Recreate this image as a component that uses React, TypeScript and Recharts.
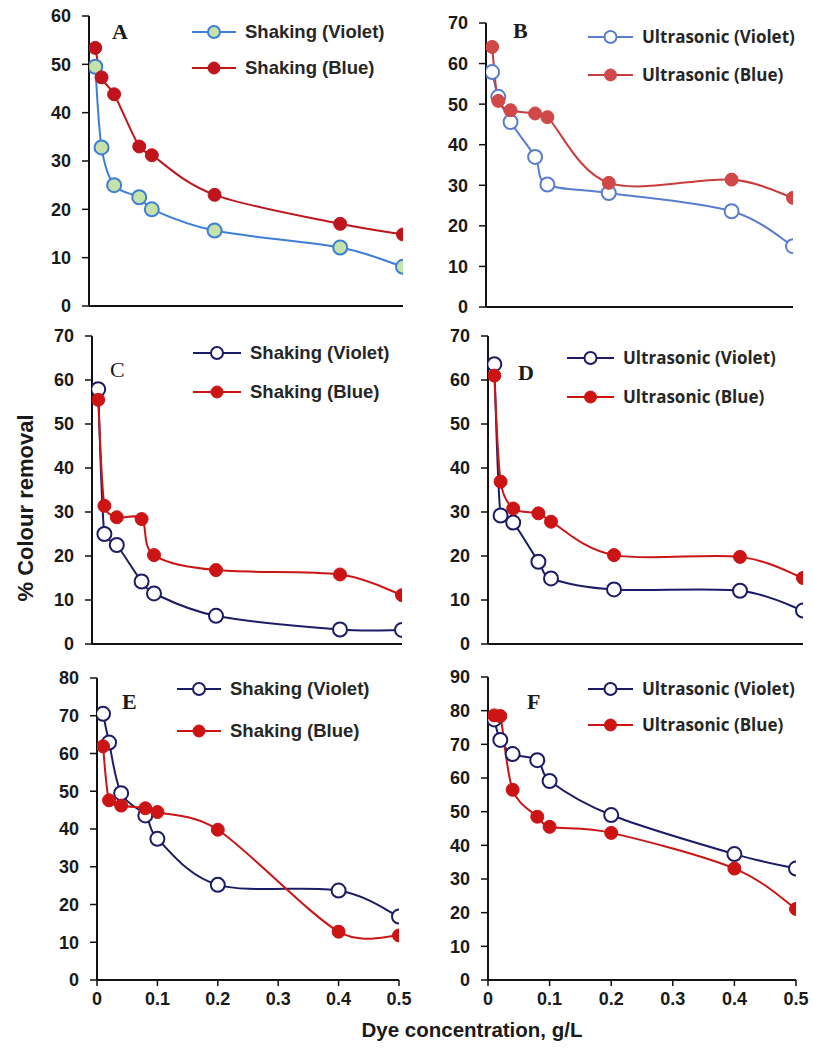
import React from 'react';
import { LineChart, Line, XAxis, YAxis, Legend } from 'recharts';

// ---- data ----
const concentrations = [0.01, 0.02, 0.04, 0.08, 0.1, 0.2, 0.4, 0.5];
const xTicks = [0, 0.1, 0.2, 0.3, 0.4, 0.5];

const aViolet = [49.5, 32.8, 25.0, 22.5, 20.0, 15.6, 12.1, 8.1];
const aBlue = [53.4, 47.3, 43.8, 33.0, 31.2, 23.0, 17.0, 14.8];
const bViolet = [57.9, 51.8, 45.6, 37.0, 30.2, 28.1, 23.6, 15.0];
const bBlue = [64.1, 50.8, 48.5, 47.7, 46.8, 30.6, 31.4, 26.9];
const cViolet = [57.9, 25.0, 22.5, 14.2, 11.5, 6.4, 3.3, 3.2];
const cBlue = [55.5, 31.4, 28.8, 28.4, 20.2, 16.8, 15.8, 11.1];
const dViolet = [63.6, 29.2, 27.6, 18.7, 14.9, 12.4, 12.1, 7.6];
const dBlue = [61.0, 36.9, 30.8, 29.7, 27.8, 20.2, 19.8, 15.0];
const eViolet = [70.5, 62.9, 49.5, 43.6, 37.4, 25.2, 23.7, 16.8];
const eBlue = [61.9, 47.6, 46.2, 45.5, 44.5, 39.8, 12.8, 11.8];
const fViolet = [77.4, 71.3, 67.1, 65.3, 59.1, 49.0, 37.4, 33.1];
const fBlue = [78.6, 78.4, 56.5, 48.5, 45.5, 43.7, 33.1, 21.1];

const yTicks60 = [0, 10, 20, 30, 40, 50, 60];
const yTicks70 = [0, 10, 20, 30, 40, 50, 60, 70];
const yTicks80 = [0, 10, 20, 30, 40, 50, 60, 70, 80];
const yTicks90 = [0, 10, 20, 30, 40, 50, 60, 70, 80, 90];

const shakingLabels = ['Shaking (Violet)', 'Shaking (Blue)'];
const ultraLabels = ['Ultrasonic (Violet)', 'Ultrasonic (Blue)'];
const panelLetters = ['A', 'B', 'C', 'D', 'E', 'F'];
const yTitle = '% Colour removal';
const xTitle = 'Dye concentration, g/L';

// Excel-like smoothing (Catmull-Rom in screen space, tangent length limited)
const excelSmooth: any = (context: any) => {
  let pts: number[][] = [];
  const lim = (tx: number, ty: number, maxLen: number) => {
    const l = Math.hypot(tx, ty);
    if (l > maxLen && l > 0) {
      const s = maxLen / l;
      return [tx * s, ty * s];
    }
    return [tx, ty];
  };
  return {
    areaStart() {},
    areaEnd() {},
    lineStart() {
      pts = [];
    },
    lineEnd() {
      const n = pts.length;
      if (!n) return;
      context.moveTo(pts[0][0], pts[0][1]);
      if (n === 1) return;
      for (let i = 0; i < n - 1; i++) {
        const p0 = pts[i - 1] || pts[i];
        const p1 = pts[i];
        const p2 = pts[i + 1];
        const p3 = pts[i + 2] || pts[i + 1];
        const seg = Math.hypot(p2[0] - p1[0], p2[1] - p1[1]);
        const t1 = lim((p2[0] - p0[0]) / 6, (p2[1] - p0[1]) / 6, seg * 0.45);
        const t2 = lim((p3[0] - p1[0]) / 6, (p3[1] - p1[1]) / 6, seg * 0.45);
        context.bezierCurveTo(p1[0] + t1[0], p1[1] + t1[1], p2[0] - t2[0], p2[1] - t2[1], p2[0], p2[1]);
      }
    },
    point(x: number, y: number) {
      pts.push([+x, +y]);
    },
  };
};

type Style = {
  vLine: string;
  vStroke: string;
  vFill: string;
  bLine: string;
  bFill: string;
};

const styleA: Style = { vLine: '#3d7fd6', vStroke: '#3d7fd6', vFill: '#c5e2a8', bLine: '#c0141c', bFill: '#c0141c' };
const styleB: Style = { vLine: '#5a7dd0', vStroke: '#5a7dd0', vFill: '#ffffff', bLine: '#c93c3c', bFill: '#d04848' };
const styleDark: Style = { vLine: '#1c1c66', vStroke: '#1c1c66', vFill: '#ffffff', bLine: '#cc1414', bFill: '#cc1414' };

type Panel = {
  violet: number[];
  blue: number[];
  yTicks: number[];
  labels: string[];
  style: Style;
  plot: [number, number, number, number];
  bottom: boolean;
  legend: { x: number; y1: number; y2: number; tx: number; font: string; size: number };
};

const sansA = '"Liberation Sans", Arial, sans-serif';
const sansB = '"Open Sans", "Liberation Sans", sans-serif';

const panels: Panel[] = [
  { violet: aViolet, blue: aBlue, yTicks: yTicks60, labels: shakingLabels, style: styleA, plot: [89, 16, 403, 306], bottom: false,
    legend: { x: 192, y1: 32, y2: 68, tx: 245, font: sansA, size: 18.5 } },
  { violet: bViolet, blue: bBlue, yTicks: yTicks70, labels: ultraLabels, style: styleB, plot: [486, 23, 793, 307], bottom: false,
    legend: { x: 588, y1: 37, y2: 75, tx: 642, font: sansB, size: 17 } },
  { violet: cViolet, blue: cBlue, yTicks: yTicks70, labels: shakingLabels, style: styleDark, plot: [92, 336, 402, 644], bottom: false,
    legend: { x: 193, y1: 353, y2: 392, tx: 250, font: sansA, size: 18.5 } },
  { violet: dViolet, blue: dBlue, yTicks: yTicks70, labels: ultraLabels, style: styleDark, plot: [488, 336, 803, 644], bottom: false,
    legend: { x: 567, y1: 358, y2: 397, tx: 623, font: sansB, size: 17 } },
  { violet: eViolet, blue: eBlue, yTicks: yTicks80, labels: shakingLabels, style: styleDark, plot: [97, 678, 399, 980], bottom: true,
    legend: { x: 177, y1: 689, y2: 731, tx: 230, font: sansA, size: 18.5 } },
  { violet: fViolet, blue: fBlue, yTicks: yTicks90, labels: ultraLabels, style: styleDark, plot: [488, 677, 796, 980], bottom: true,
    legend: { x: 588, y1: 689, y2: 725, tx: 642, font: sansB, size: 17 } },
];

const letterPos = [
  { x: 112, y: 39, w: 'bold' },
  { x: 513, y: 38, w: 'bold' },
  { x: 110, y: 377, w: 'normal' },
  { x: 518, y: 380, w: 'bold' },
  { x: 122, y: 709, w: 'bold' },
  { x: 527, y: 709, w: 'bold' },
];

const Y_W = 70;
const M_TOP = 12;

const tickStyle = { fontFamily: sansA, fontWeight: 'bold' as const, fontSize: 18, fill: '#1a1a1a' };

function ChartPanel({ p }: { p: Panel }) {
  const [x0, y0, x1, y1] = p.plot;
  const xh = p.bottom ? 45 : 14;
  const mRight = p.bottom ? 16 : 9;
  const left = x0 - Y_W;
  const top = y0 - M_TOP;
  const width = x1 - left + mRight;
  const height = y1 - top + xh;
  const data = concentrations.map((c, i) => ({ x: c, violet: p.violet[i], blue: p.blue[i] }));
  const lg = p.legend;
  const legendContent = () => (
    <div style={{ position: 'relative', width: 230, height: lg.y2 - lg.y1 + 24 }}>
      {[0, 1].map((k) => {
        const cy = k === 0 ? 12 : 12 + lg.y2 - lg.y1;
        const isV = k === 0;
        const lineCol = isV ? p.style.vLine : p.style.bLine;
        const segLen = lg.tx - lg.x - 9;
        return (
          <div key={k}>
            <svg width={50} height={24} style={{ position: 'absolute', left: 0, top: cy - 12, overflow: 'visible' }}>
              <line x1={0} y1={12} x2={segLen} y2={12} stroke={lineCol} strokeWidth={2} />
              <circle
                cx={segLen / 2}
                cy={12}
                r={6}
                fill={isV ? p.style.vFill : p.style.bFill}
                stroke={isV ? p.style.vStroke : p.style.bFill}
                strokeWidth={isV ? 2 : 1}
              />
            </svg>
            <span
              style={{
                position: 'absolute',
                left: lg.tx - lg.x,
                top: cy - 12,
                height: 24,
                lineHeight: '24px',
                whiteSpace: 'nowrap',
                fontFamily: lg.font,
                fontWeight: 'bold',
                fontSize: lg.size,
                color: '#262626',
              }}
            >
              {p.labels[k]}
            </span>
          </div>
        );
      })}
    </div>
  );
  return (
    <div style={{ position: 'absolute', left, top }}>
      <LineChart width={width} height={height} data={data} margin={{ top: M_TOP, right: mRight, bottom: 0, left: 0 }}>
        <XAxis
          dataKey="x"
          type="number"
          domain={[0, 0.5]}
          ticks={xTicks}
          interval={0}
          height={xh}
          tick={p.bottom ? tickStyle : false}
          tickSize={6}
          tickMargin={6}
          axisLine={{ stroke: '#111', strokeWidth: 2 }}
          tickLine={{ stroke: '#111', strokeWidth: 1.5 }}
          allowDataOverflow
        />
        <YAxis
          type="number"
          domain={[0, p.yTicks[p.yTicks.length - 1]]}
          ticks={p.yTicks}
          interval={0}
          width={Y_W}
          tick={tickStyle}
          tickSize={7}
          tickMargin={11}
          axisLine={{ stroke: '#111', strokeWidth: 2 }}
          tickLine={{ stroke: '#111', strokeWidth: 1.5 }}
        />
        <Legend
          layout="vertical"
          align="center"
          verticalAlign="middle"
          content={legendContent}
          wrapperStyle={{ left: lg.x - left, top: lg.y1 - 12 - top, width: 230 }}
        />
        <Line
          dataKey="violet"
          name={p.labels[0]}
          type={excelSmooth}
          stroke={p.style.vLine}
          strokeWidth={2}
          dot={{ r: 7, fill: p.style.vFill, stroke: p.style.vStroke, strokeWidth: 2 }}
          isAnimationActive={false}
        />
        <Line
          dataKey="blue"
          name={p.labels[1]}
          type={excelSmooth}
          stroke={p.style.bLine}
          strokeWidth={2}
          dot={{ r: 6.5, fill: p.style.bFill, stroke: p.style.bFill, strokeWidth: 1 }}
          isAnimationActive={false}
        />
      </LineChart>
    </div>
  );
}

export default function App() {
  return (
    <div style={{ position: 'absolute', left: 0, top: 0, width: 813, height: 1055, overflow: 'hidden', background: '#ffffff' }}>
      {panels.map((p, i) => (
        <ChartPanel key={i} p={p} />
      ))}
      <svg width={813} height={1055} style={{ position: 'absolute', left: 0, top: 0, pointerEvents: 'none' }}>
        {letterPos.map((l, i) => (
          <text key={i} x={l.x} y={l.y} fontFamily='"Liberation Serif", "Times New Roman", serif' fontWeight={l.w} fontSize={22} fill="#1a1a1a">
            {panelLetters[i]}
          </text>
        ))}
        <text
          transform="translate(33,508) rotate(-90)"
          textAnchor="middle"
          fontFamily={sansA}
          fontWeight="bold"
          fontSize={22}
          fill="#1a1a1a"
        >
          {yTitle}
        </text>
        <text x={472} y={1037} textAnchor="middle" fontFamily={sansA} fontWeight="bold" fontSize={20.5} fill="#1a1a1a">
          {xTitle}
        </text>
      </svg>
    </div>
  );
}
